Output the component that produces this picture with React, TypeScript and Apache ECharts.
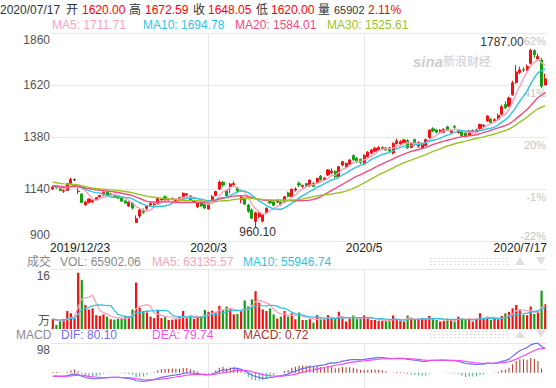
import React, { useEffect, useRef } from 'react';
import * as echarts from 'echarts';

// ---------------- data ----------------
const tradingDays: [string, number[]][] = [
  ['2019/12', [23, 24, 25, 26, 27, 30, 31]],
  ['2020/1', [2, 3, 6, 7, 8, 9, 10, 13, 14, 15, 16, 17, 20, 21, 22, 23]],
  ['2020/2', [3, 4, 5, 6, 7, 10, 11, 12, 13, 14, 17, 18, 19, 20, 21, 24, 25, 26, 27, 28]],
  ['2020/3', [2, 3, 4, 5, 6, 9, 10, 11, 12, 13, 16, 17, 18, 19, 20, 23, 24, 25, 26, 27, 30, 31]],
  ['2020/4', [1, 2, 3, 7, 8, 9, 10, 13, 14, 15, 16, 17, 20, 21, 22, 23, 24, 27, 28, 29, 30]],
  ['2020/5', [6, 7, 8, 11, 12, 13, 14, 15, 18, 19, 20, 21, 22, 25, 26, 27, 28, 29]],
  ['2020/6', [1, 2, 3, 4, 5, 8, 9, 10, 11, 12, 15, 16, 17, 18, 19, 22, 23, 24, 29, 30]],
  ['2020/7', [1, 2, 3, 6, 7, 8, 9, 10, 13, 14, 15, 16, 17]],
];
const dates: string[] = tradingDays.flatMap(([m, ds]) => ds.map((d) => `${m}/${d}`));

// [open, close, low, high]
const candles: number[][] = [
  [1140, 1149, 1136, 1156], [1150, 1146, 1141, 1153], [1144, 1133, 1130, 1147], [1130, 1132, 1122, 1138],
  [1134, 1165, 1132, 1168], [1166, 1184, 1163, 1192], [1183, 1183, 1177, 1188], [1128, 1130, 1116, 1145],
  [1117, 1078, 1076, 1118], [1067, 1080, 1062, 1084], [1079, 1094, 1074, 1096], [1081, 1086, 1077, 1092],
  [1090, 1100, 1088, 1102], [1103, 1110, 1100, 1113], [1113, 1125, 1110, 1128], [1126, 1110, 1107, 1130],
  [1112, 1116, 1108, 1122], [1115, 1105, 1102, 1118], [1110, 1098, 1095, 1112], [1098, 1084, 1080, 1102],
  [1085, 1075, 1072, 1088], [1062, 1079, 1058, 1082], [1077, 1052, 1045, 1080], [985, 1003, 985, 1018],
  [1015, 1043, 1005, 1050], [1042, 1033, 1025, 1050], [1051, 1061, 1040, 1065], [1066, 1073, 1058, 1078],
  [1068, 1071, 1060, 1076], [1075, 1097, 1072, 1100], [1090, 1094, 1085, 1098], [1104, 1090, 1086, 1110],
  [1089, 1093, 1083, 1097], [1093, 1097, 1088, 1100], [1085, 1090, 1080, 1095], [1092, 1100, 1088, 1104],
  [1098, 1120, 1095, 1124], [1113, 1117, 1108, 1122], [1108, 1088, 1085, 1112], [1079, 1083, 1075, 1088],
  [1058, 1076, 1052, 1080], [1080, 1062, 1058, 1085], [1072, 1052, 1048, 1076], [1048, 1074, 1045, 1078],
  [1092, 1104, 1088, 1112], [1110, 1128, 1106, 1132], [1140, 1172, 1135, 1180], [1171, 1158, 1150, 1176],
  [1132, 1110, 1105, 1138], [1150, 1163, 1120, 1168], [1160, 1165, 1150, 1175], [1145, 1130, 1125, 1150],
  [1090, 1102, 1075, 1110], [1095, 1070, 1066, 1102], [1066, 1037, 1030, 1072], [1043, 1005, 1000, 1050],
  [990, 1030, 960.1, 1035], [1013, 1028, 1005, 1040], [992, 1020, 985, 1025], [1032, 1051, 1025, 1055],
  [1082, 1076, 1070, 1090], [1080, 1065, 1060, 1085], [1080, 1086, 1075, 1093], [1080, 1068, 1062, 1082],
  [1081, 1104, 1075, 1108], [1122, 1106, 1100, 1128], [1105, 1139, 1100, 1142], [1135, 1140, 1128, 1148],
  [1165, 1158, 1150, 1175], [1152, 1156, 1145, 1160], [1165, 1156, 1150, 1168], [1154, 1181, 1150, 1185],
  [1166, 1152, 1148, 1172], [1168, 1189, 1165, 1192], [1200, 1183, 1178, 1205], [1183, 1190, 1178, 1196],
  [1205, 1228, 1200, 1232], [1215, 1223, 1208, 1235], [1222, 1196, 1190, 1226], [1197, 1243, 1194, 1246],
  [1251, 1266, 1245, 1270], [1240, 1258, 1232, 1262], [1255, 1274, 1250, 1278], [1294, 1275, 1270, 1300],
  [1282, 1265, 1260, 1288], [1277, 1262, 1255, 1280], [1255, 1295, 1250, 1300], [1290, 1310, 1285, 1315],
  [1306, 1320, 1300, 1325], [1315, 1328, 1310, 1335], [1320, 1331, 1315, 1338], [1326, 1331, 1320, 1336],
  [1330, 1320, 1315, 1333], [1330, 1315, 1312, 1335], [1306, 1350, 1300, 1355], [1350, 1362, 1345, 1372],
  [1348, 1358, 1340, 1365], [1352, 1366, 1348, 1372], [1363, 1330, 1325, 1370], [1332, 1352, 1328, 1356],
  [1368, 1350, 1345, 1372], [1338, 1354, 1330, 1360], [1330, 1350, 1325, 1355], [1340, 1368, 1336, 1372],
  [1378, 1412, 1372, 1415], [1418, 1408, 1402, 1425], [1412, 1402, 1396, 1418], [1400, 1411, 1395, 1416],
  [1402, 1416, 1398, 1420], [1427, 1413, 1408, 1432], [1402, 1410, 1398, 1415], [1428, 1425, 1418, 1435],
  [1400, 1411, 1395, 1416], [1403, 1386, 1380, 1408], [1398, 1382, 1378, 1402], [1388, 1408, 1385, 1412],
  [1404, 1409, 1400, 1415], [1405, 1412, 1400, 1418], [1418, 1438, 1414, 1442], [1430, 1434, 1425, 1440],
  [1454, 1477, 1450, 1480], [1462, 1447, 1440, 1468], [1454, 1460, 1448, 1466], [1462, 1480, 1455, 1488],
  [1485, 1520, 1480, 1528], [1530, 1515, 1508, 1545], [1522, 1560, 1518, 1566], [1575, 1630, 1570, 1640],
  [1632, 1680, 1625, 1712], [1678, 1690, 1670, 1705], [1692, 1690, 1680, 1702], [1690, 1705, 1685, 1715],
  [1720, 1780, 1715, 1787], [1778, 1760, 1745, 1785], [1740, 1752, 1730, 1765], [1735, 1614, 1605, 1745],
  [1620, 1648.05, 1620, 1672.59],
];

// volume, in 万 (10k lots)
const volumes: number[] = [
  2.7, 1.1, 2.1, 2.7, 4.8, 4.2, 2.9, 15.0, 13.1, 6.4, 5.2, 5.5, 3.7, 3.5, 3.9, 3.3, 2.6, 2.5, 2.7, 3.0,
  3.3, 3.4, 5.2, 12.4, 5.6, 4.8, 4.4, 3.3, 2.9, 4.8, 2.9, 3.3, 2.4, 2.5, 2.6, 3.2, 4.8, 2.9, 3.6, 2.7,
  3.0, 3.4, 5.1, 4.6, 4.9, 4.4, 6.2, 5.1, 6.0, 5.4, 3.9, 4.0, 5.0, 7.6, 6.0, 7.9, 10.1, 7.0, 5.2, 4.8,
  5.5, 3.9, 2.8, 3.3, 4.8, 3.3, 4.2, 2.6, 4.4, 2.4, 2.4, 2.6, 1.7, 3.7, 2.8, 2.6, 3.7, 2.8, 2.7, 4.6,
  2.8, 2.0, 2.8, 3.6, 2.7, 2.7, 3.6, 2.8, 2.4, 2.4, 2.2, 2.1, 2.1, 2.4, 3.6, 2.4, 2.2, 2.0, 3.6, 3.0,
  2.4, 2.6, 2.7, 2.7, 3.5, 2.6, 2.4, 2.0, 2.2, 2.8, 2.4, 2.0, 3.3, 2.8, 2.4, 2.8, 2.0, 2.8, 4.2, 2.8,
  3.3, 2.4, 2.8, 2.6, 3.5, 4.2, 4.6, 5.5, 6.4, 5.0, 3.8, 3.68, 6.0, 4.0, 4.78, 10.2, 6.59,
];

// closes / volumes before the visible window (estimated from where the MA lines start)
const priorCloses: number[] = [
  1210, 1215, 1208, 1200, 1195, 1205, 1198, 1202, 1197, 1200,
  1175, 1170, 1168, 1162, 1160, 1155, 1150, 1148, 1145, 1147,
  1150, 1148, 1155, 1158, 1154, 1150, 1155, 1148, 1153,
];
const priorVolumes: number[] = [2.8, 2.5, 3.1, 2.6, 2.4, 2.9, 2.7, 2.3, 2.6];

const priceTicks = [900, 1140, 1380, 1620, 1860];
const volTopTick = 16;
const macdTopTick = 98;
const xTickDates = ['2019/12/23', '2020/3/2', '2020/5/6', '2020/7/17'];
const xTickLabels = ['2019/12/23', '2020/3', '2020/5', '2020/7/17'];
const gridLineDates = ['2020/3/2', '2020/5/6'];

const quoteDate = '2020/07/17';
const quoteItems: [string, string][] = [['开', '1620.00'], ['高', '1672.59'], ['收', '1648.05'], ['低', '1620.00']];
const quoteVol = '65902';
const quoteChg = '2.11%';
const priceMALabels = ['MA5: 1711.71', 'MA10: 1694.78', 'MA20: 1584.01', 'MA30: 1525.61'];
const volLabels = ['VOL: 65902.06', 'MA5: 63135.57', 'MA10: 55946.74'];
const macdLabels = ['DIF: 80.10', 'DEA: 79.74', 'MACD: 0.72'];

// ---------------- styles ----------------
const RED = '#f21010';
const GREEN = '#10a010';
const MA_COLORS = ['#f7a3bd', '#2ec4e2', '#ee4c80', '#9cc326'];
const DIF_COLOR = '#6d6df2';
const DEA_COLOR = '#f04ef0';
const MACD_RED = '#b3301f';
const MACD_GREEN = '#35b58e';
const GRID_COLOR = '#e8e8e8';
const FF = '"Liberation Sans", Arial, "Noto Sans CJK SC", sans-serif';
const F12 = `12px ${FF}`;
const F11 = `11px ${FF}`;
const GL = 51;
const GW = 496;

function movingAvg(all: number[], offset: number, n: number): number[] {
  const out: number[] = [];
  for (let k = offset; k < all.length; k++) {
    const s = Math.max(0, k - n + 1);
    let sum = 0;
    for (let j = s; j <= k; j++) sum += all[j];
    out.push(+(sum / (k - s + 1)).toFixed(2));
  }
  return out;
}

export default function App() {
  const ref = useRef<HTMLDivElement>(null);
  useEffect(() => {
    const chart = echarts.init(ref.current!, null, { renderer: 'svg' });
    const closes = candles.map((c) => c[1]);
    const allC = [...priorCloses, ...closes];
    const off = priorCloses.length;
    const maN = [5, 10, 20, 30];
    const maData = maN.map((n) => movingAvg(allC, off, n));
    const allV = [...priorVolumes, ...volumes];
    const vma5 = movingAvg(allV, priorVolumes.length, 5);
    const vma10 = movingAvg(allV, priorVolumes.length, 10);

    // MACD (12, 26, 9)
    let e12 = allC[0], e26 = allC[0], dea = 0;
    const difA: number[] = [], deaA: number[] = [], barA: number[] = [];
    allC.forEach((c, k) => {
      if (k > 0) {
        e12 = (e12 * 11) / 13 + (c * 2) / 13;
        e26 = (e26 * 25) / 27 + (c * 2) / 27;
      }
      const dif = e12 - e26;
      dea = k === 0 ? 0 : (dea * 8) / 10 + (dif * 2) / 10;
      if (k >= off) {
        difA.push(+dif.toFixed(2));
        deaA.push(+dea.toFixed(2));
        barA.push(+(2 * (dif - dea)).toFixed(2));
      }
    });

    const hiddenAxis = { axisLine: { show: false }, axisTick: { show: false }, axisLabel: { show: false }, splitLine: { show: false } };
    const option: any = {
      animation: false,
      grid: [
        { left: GL, top: 33, width: GW, height: 208 },
        { left: GL, top: 269, width: GW, height: 60 },
        { left: GL, top: 343, width: GW, height: 45 },
      ],
      xAxis: [0, 1, 2].map((g) => ({ type: 'category', gridIndex: g, data: dates, boundaryGap: true, ...hiddenAxis })),
      yAxis: [
        { gridIndex: 0, min: 900, max: 1860 },
        { gridIndex: 1, min: 0, max: 16 },
        { gridIndex: 2, min: -50, max: 98 },
      ].map((a) => ({ type: 'value', ...a, ...hiddenAxis })),
      series: [
        {
          type: 'candlestick', xAxisIndex: 0, yAxisIndex: 0, data: candles, barWidth: 2.6, z: 3,
          itemStyle: { color: RED, color0: GREEN, borderColor: RED, borderColor0: GREEN, borderColorDoji: '#222', borderWidth: 1 },
        },
        ...maData.map((d, i) => ({
          type: 'line', xAxisIndex: 0, yAxisIndex: 0, data: d, symbol: 'none', z: 4,
          lineStyle: { width: 1.4, color: MA_COLORS[i] }, itemStyle: { color: MA_COLORS[i] },
        })),
        {
          type: 'bar', xAxisIndex: 1, yAxisIndex: 1, barWidth: 2.2, z: 3,
          data: volumes.map((v, i) => ({ value: v, itemStyle: { color: candles[i][1] >= candles[i][0] ? RED : GREEN } })),
        },
        { type: 'line', xAxisIndex: 1, yAxisIndex: 1, data: vma5, symbol: 'none', z: 4, lineStyle: { width: 1.3, color: MA_COLORS[0] } },
        { type: 'line', xAxisIndex: 1, yAxisIndex: 1, data: vma10, symbol: 'none', z: 4, lineStyle: { width: 1.3, color: MA_COLORS[1] } },
        {
          type: 'bar', xAxisIndex: 2, yAxisIndex: 2, barWidth: 1, z: 3,
          data: barA.map((v) => ({ value: v, itemStyle: { color: v >= 0 ? MACD_RED : MACD_GREEN } })),
        },
        { type: 'line', xAxisIndex: 2, yAxisIndex: 2, data: difA, symbol: 'none', z: 4, lineStyle: { width: 1.2, color: DIF_COLOR } },
        { type: 'line', xAxisIndex: 2, yAxisIndex: 2, data: deaA, symbol: 'none', z: 4, lineStyle: { width: 1.2, color: DEA_COLOR } },
      ],
    };
    chart.setOption(option);

    const px = (g: number, idx: number, v: number) =>
      chart.convertToPixel({ xAxisIndex: g, yAxisIndex: g } as any, [idx, v]) as number[];
    const g: any[] = [];
    const text = (x: number, y: number, t: string, fill: string, align = 'left', va = 'middle', font = F12, z = 20) =>
      g.push({ type: 'text', x, y, z, silent: true, style: { text: t, fill, font, align, verticalAlign: va, textAlign: align, textVerticalAlign: va } });
    const hline = (x1: number, x2: number, y: number, stroke = GRID_COLOR, dash?: number[]) =>
      g.push({ type: 'line', z: 0, silent: true, shape: { x1, y1: Math.round(y) + 0.5, x2, y2: Math.round(y) + 0.5 }, style: { stroke, lineWidth: 1, lineDash: dash } });
    const vline = (x: number, y1: number, y2: number) =>
      g.push({ type: 'line', z: 0, silent: true, shape: { x1: Math.round(x) + 0.5, y1, x2: Math.round(x) + 0.5, y2 }, style: { stroke: GRID_COLOR, lineWidth: 1 } });

    // price gridlines + labels
    const base = closes[0];
    priceTicks.forEach((t, k) => {
      const y = px(0, 0, t)[1];
      hline(GL, GL + GW, y);
      const va = k === priceTicks.length - 1 ? 'top' : k === 0 ? 'bottom' : 'middle';
      text(GL - 1, k === priceTicks.length - 1 ? y + 1 : y, String(t), '#555', 'right', va);
      const pct = Math.round((t / base - 1) * 100) + '%';
      text(GL + GW - 1, k === 0 ? y : y + 2, pct, '#c4c4c4', 'right', k === 0 ? 'bottom' : 'top', F11, 1);
    });
    // vertical gridlines
    const yTop0 = px(0, 0, 1860)[1], yBot0 = px(0, 0, 900)[1];
    const yTop1 = px(1, 0, 16)[1], yBot1 = px(1, 0, 0)[1];
    const yTop2 = px(2, 0, 98)[1];
    gridLineDates.forEach((d) => {
      const x = px(0, dates.indexOf(d), 1000)[0];
      vline(x, yTop0, yBot0);
      vline(x, yTop1, yBot1);
      vline(x, yTop2, 388);
    });
    hline(GL, GL + GW, yTop1);
    hline(GL, GL + GW, yTop2);
    text(GL - 1, yTop1 + 1, String(volTopTick), '#555', 'right', 'top');
    text(GL - 1, yBot1 - 2, '万', '#555', 'right', 'bottom');
    text(GL - 1, yTop2 + 1, String(macdTopTick), '#555', 'right', 'top');

    // x labels
    xTickDates.forEach((d, k) => {
      const x = px(0, dates.indexOf(d), 1000)[0];
      const last = k === xTickDates.length - 1;
      if (k === 0) text(GL - 1, 242, xTickLabels[k], '#222', 'left', 'top');
      else if (last) text(GL + GW, 242, xTickLabels[k], '#222', 'right', 'top');
      else text(x, 242, xTickLabels[k], '#222', 'center', 'top');
    });

    // high / low markers
    let hi = 0, lo = 0;
    candles.forEach((c, i) => {
      if (c[3] > candles[hi][3]) hi = i;
      if (c[2] < candles[lo][2]) lo = i;
    });
    const ph = px(0, hi, candles[hi][3]);
    text(ph[0] - 7, ph[1] - 1, candles[hi][3].toFixed(2), '#333', 'right', 'bottom');
    const pl = px(0, lo, candles[lo][2]);
    text(pl[0] + 2, pl[1] - 2, candles[lo][2].toFixed(2), '#333', 'center', 'top');

    // header quote line
    text(0, 10, quoteDate, '#333');
    const qx = [[66, 82], [129, 145], [193, 208], [256, 271]];
    quoteItems.forEach(([lab, val], k) => {
      text(qx[k][0], 10, lab, '#333');
      text(qx[k][1], 10, val, '#ff0000');
    });
    text(318, 10, '量', '#333');
    text(334, 10, quoteVol, '#333', 'left', 'middle', F11);
    text(368, 10, quoteChg, '#ff0000');
    // MA header
    [52, 143, 235, 327].forEach((x, k) => text(x, 25, priceMALabels[k], MA_COLORS[k]));
    // volume header
    text(27, 262, '成交', '#8a8a8a');
    text(60, 262, volLabels[0], '#8a8a8a');
    text(152, 262, volLabels[1], MA_COLORS[0]);
    text(243, 262, volLabels[2], MA_COLORS[1]);
    // MACD header
    text(16, 335, 'MACD', '#8a8a9a');
    text(61, 335, macdLabels[0], DIF_COLOR);
    text(152, 335, macdLabels[1], DEA_COLOR);
    text(243, 335, macdLabels[2], '#a8302a');

    // watermark
    text(413, 61, 'sina', '#cdcdcd', 'left', 'middle', `italic bold 15px ${FF}`, 1);
    text(443, 62, '新浪财经', '#cdcdcd', 'left', 'middle', `12px ${FF}`, 1);

    // scroll controls (decoration)
    [258, 331].forEach((y0) => {
      [0, 3, 6].forEach((dy) => hline(430, 508, y0 + dy, '#dedede', [2, 2]));
      g.push({ type: 'polygon', z: 1, silent: true, shape: { points: [[515, y0 + 7], [520, y0 - 1], [525, y0 + 7]] }, style: { fill: '#e0e0e0' } });
      g.push({ type: 'polygon', z: 1, silent: true, shape: { points: [[536, y0 - 1], [546, y0 - 1], [541, y0 + 7]] }, style: { fill: '#e0e0e0' } });
    });

    chart.setOption({ graphic: g });
    return () => chart.dispose();
  }, []);
  return <div ref={ref} style={{ position: 'absolute', left: 0, top: 0, width: 556, height: 388 }} />;
}
